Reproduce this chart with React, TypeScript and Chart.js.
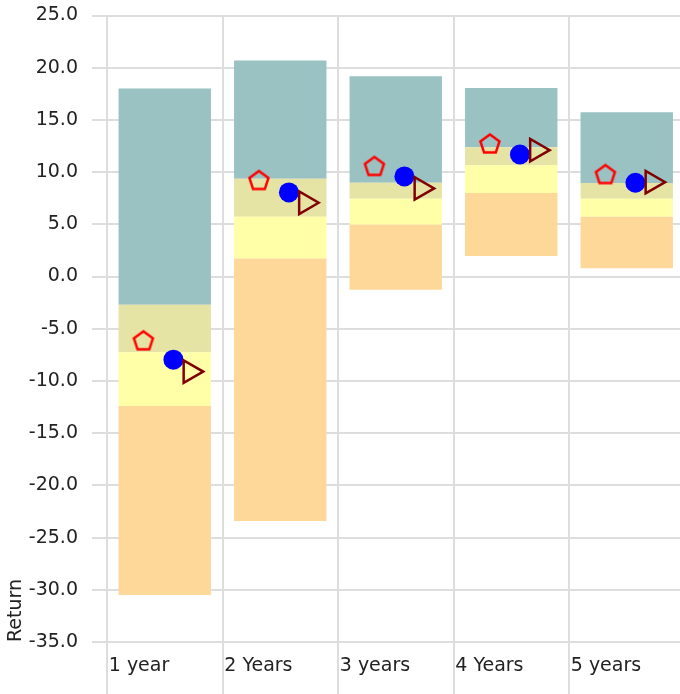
import React, { useEffect, useRef } from "react";
import { Chart, registerables } from "chart.js";

Chart.register(...registerables);

const categories = ["1 year", "2 Years", "3 years", "4 Years", "5 years"];
// band boundaries (from bottom to top)
const rangeBottom = [-30.5, -23.4, -1.27, 1.97, 0.8];
const bound1 = [-12.4, 1.72, 4.97, 8.0, 5.73];
const bound2 = [-7.26, 5.73, 7.45, 10.67, 7.45];
const bound3 = [-2.7, 9.36, 8.98, 12.39, 8.95];
const rangeTop = [18.0, 20.7, 19.17, 18.06, 15.73];
// markers
const pentagonValues = [-6.15, 9.2, 10.55, 12.7, 9.77];
const circleValues = [-7.96, 8.06, 9.59, 11.69, 8.98];
const triangleValues = [-9.1, 7.07, 8.44, 12.1, 9.04];
const yTickMin = -35;
const yTickMax = 25;
const yTickStep = 5;

const FONT = "'DejaVu Sans', Verdana, sans-serif";
const GRID = "#dddddd";
const TEXT = "#222222";

function makePentagon(): HTMLCanvasElement {
  const c = document.createElement("canvas");
  c.width = 26;
  c.height = 26;
  const ctx = c.getContext("2d")!;
  const R = 10;
  const cx = 13, cy = 13.5;
  ctx.beginPath();
  for (let i = 0; i < 5; i++) {
    const a = -Math.PI / 2 + (i * 2 * Math.PI) / 5;
    const px = cx + R * Math.cos(a);
    const py = cy + R * Math.sin(a);
    if (i === 0) ctx.moveTo(px, py);
    else ctx.lineTo(px, py);
  }
  ctx.closePath();
  ctx.strokeStyle = "#ff0000";
  ctx.lineWidth = 2.5;
  ctx.stroke();
  return c;
}

export default function App() {
  const ref = useRef<HTMLCanvasElement>(null);
  useEffect(() => {
    if (!ref.current) return;
    const pent = makePentagon();
    const band = (lo: number[], hi: number[]) => lo.map((v, i) => [v, hi[i]]);
    const pts = (vals: number[], off: number) => vals.map((v, i) => ({ x: i + off, y: v }));
    const chart = new Chart(ref.current, {
      type: "bar",
      data: {
        labels: categories,
        datasets: [
          {
            type: "scatter",
            data: pts(triangleValues, 0.22),
            xAxisID: "x2",
            pointStyle: "triangle",
            pointRotation: 90,
            pointRadius: 13,
            borderColor: "#800000",
            backgroundColor: "rgba(0,0,0,0)",
            borderWidth: 2.5,
            order: 0,
          } as any,
          {
            type: "scatter",
            data: pts(circleValues, 0.075),
            xAxisID: "x2",
            pointStyle: "circle",
            pointRadius: 10,
            borderWidth: 0,
            backgroundColor: "#0000ff",
            borderColor: "#0000ff",
            order: 1,
          } as any,
          {
            type: "scatter",
            data: pts(pentagonValues, -0.185),
            xAxisID: "x2",
            pointStyle: pent,
            pointRadius: 11,
            order: 2,
          } as any,
          { data: band(rangeBottom, bound1), backgroundColor: "#fdd898", grouped: false, order: 3 } as any,
          { data: band(bound1, bound2), backgroundColor: "#ffffa8", grouped: false, order: 3 } as any,
          { data: band(bound2, bound3), backgroundColor: "#e6e4a4", grouped: false, order: 3 } as any,
          { data: band(bound3, rangeTop), backgroundColor: "#9ac2c2", grouped: false, order: 3 } as any,
        ],
      },
      options: {
        responsive: false,
        animation: false,
        layout: { padding: { top: 14, right: 0, left: 0, bottom: 0 } },
        plugins: { legend: { display: false }, tooltip: { enabled: false } },
        datasets: { bar: { categoryPercentage: 1, barPercentage: 0.8 } } as any,
        scales: {
          x: {
            type: "category",
            offset: true,
            grid: { color: GRID, lineWidth: 2, offset: true, tickLength: 60, drawTicks: true },
            border: { color: GRID, width: 2 },
            ticks: {
              color: TEXT,
              font: { family: FONT, size: 19 },
              align: "start",
              labelOffset: -56,
              padding: -47,
              maxRotation: 0,
              autoSkip: false,
            },
            afterFit: (s: any) => {
              s.height = 52;
              s.paddingLeft = 0;
              s.paddingRight = 0;
            },
          },
          x2: {
            type: "linear",
            display: false,
            offset: false,
            grid: { offset: false },
            min: -0.5,
            max: 4.5,
          },
          y: {
            min: yTickMin,
            max: yTickMax,
            grid: { color: GRID, lineWidth: 2, tickLength: 15 },
            border: { color: GRID, width: 2 },
            ticks: {
              stepSize: yTickStep,
              color: TEXT,
              padding: 14,
              font: { family: FONT, size: 19 },
              callback: (v: any) => Number(v).toFixed(1),
            },
            title: {
              display: true,
              text: "Return",
              align: "start",
              color: TEXT,
              font: { family: FONT, size: 19 },
              padding: { top: 5, bottom: 0 },
            },
            afterFit: (s: any) => {
              s.width = 107;
              s.paddingTop = 0;
              s.paddingBottom = 0;
            },
          },
        },
      } as any,
    });
    return () => chart.destroy();
  }, []);
  return (
    <div style={{ position: "fixed", left: 0, top: 0, width: 680, height: 694, overflow: "hidden" }}>
      <canvas ref={ref} width={700} height={694} />
    </div>
  );
}
